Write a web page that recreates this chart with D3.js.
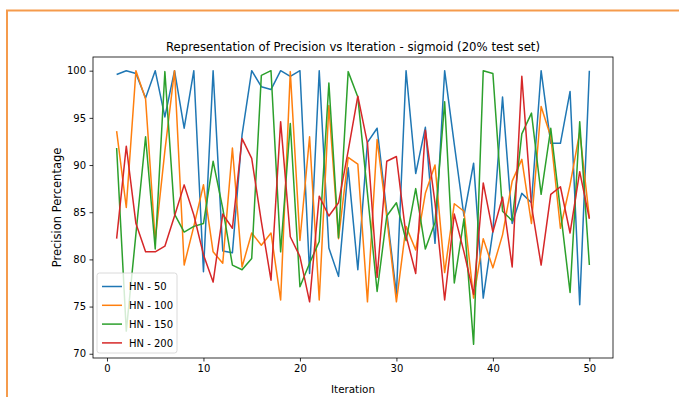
<!DOCTYPE html>
<html>
<head>
<meta charset="utf-8">
<script src="https://cdn.jsdelivr.net/npm/d3@7"></script>
<style>
  html, body { margin: 0; padding: 0; background: #fff; }
  svg { display: block; font-family: "DejaVu Sans", sans-serif; }
</style>
</head>
<body>
<svg id="chart" width="679" height="397"></svg>
<script>
// Precision per iteration for each hidden-layer size
const iterations = d3.range(1, 51);

const hn50 = [99.6, 100, 99.7, 97.1, 100, 95.1, 100, 93.9, 100, 78.7,
  100, 80.9, 80.7, 93.2, 100, 98.3, 98.0, 100, 99.4, 100,
  78.5, 100, 81.2, 78.2, 89.7, 78.9, 92.4, 93.9, 85.0, 76.3,
  100, 89.1, 94.0, 81.7, 100, 92.2, 84.6, 90.2, 75.9, 83.0,
  97.2, 83.8, 87.0, 86.0, 100, 92.3, 92.3, 97.8, 75.2, 100];

const hn100 = [93.6, 85.5, 100, 97.0, 82.0, 91.5, 100, 79.4, 83.5, 87.9,
  80.8, 79.6, 91.8, 79.2, 82.8, 81.5, 82.8, 75.7, 99.9, 82.0,
  93.0, 75.7, 96.3, 82.2, 90.8, 90.1, 75.5, 92.7, 84.5, 75.5,
  83.5, 81.0, 87.0, 90.0, 78.6, 85.9, 85.1, 75.9, 82.2, 79.1,
  82.6, 88.3, 90.6, 83.8, 96.2, 93.0, 83.3, 87.9, 93.5, 84.4];

const hn150 = [91.8, 72.4, 82.7, 93.0, 81.1, 99.9, 84.8, 82.9, 83.5, 83.8,
  90.4, 85.4, 79.4, 78.9, 80.1, 99.5, 100, 80.8, 94.4, 77.1,
  79.6, 81.9, 98.7, 82.3, 99.9, 97.2, 87.0, 76.6, 84.6, 86.0,
  82.0, 87.5, 81.1, 83.9, 96.7, 77.5, 84.3, 71.0, 100, 99.7,
  85.1, 84.1, 93.3, 95.5, 86.9, 93.9, 85.2, 76.5, 94.6, 79.4];

const hn200 = [82.2, 92.0, 83.8, 80.8, 80.8, 81.4, 84.6, 87.9, 84.7, 80.5,
  77.6, 84.8, 83.3, 92.8, 90.7, 84.0, 77.8, 94.6, 82.4, 80.3,
  75.5, 86.7, 84.6, 86.0, 91.5, 97.3, 92.3, 78.1, 90.4, 90.9,
  82.5, 78.5, 93.7, 86.0, 75.7, 84.8, 80.8, 76.3, 88.1, 82.9,
  86.6, 79.2, 99.4, 85.7, 79.4, 86.9, 87.7, 82.8, 89.3, 84.3];

const seriesNames = ["HN - 50", "HN - 100", "HN - 150", "HN - 200"];
const seriesValues = [hn50, hn100, hn150, hn200];
const seriesColors = ["#1f77b4", "#ff7f0e", "#2ca02c", "#d62728"];

const xTicks = [0, 10, 20, 30, 40, 50];
const yTicks = [70, 75, 80, 85, 90, 95, 100];

const svg = d3.select("#chart");

// outer orange frame
svg.append("path")
  .attr("d", "M7,397 L7,10.5 L679,10.5")
  .attr("fill", "none")
  .attr("stroke", "#f59b4c")
  .attr("stroke-width", 2);

const plot = { left: 93, right: 613, top: 57, bottom: 358 };

// axis limits with 5% padding around the data
const allVals = seriesValues.flat();
const xMin = d3.min(iterations), xMax = d3.max(iterations);
const yMin = d3.min(allVals), yMax = d3.max(allVals);
const xPad = (xMax - xMin) * 0.05, yPad = (yMax - yMin) * 0.05;

const x = d3.scaleLinear()
  .domain([xMin - xPad, xMax + xPad])
  .range([plot.left, plot.right]);
const y = d3.scaleLinear()
  .domain([yMin - yPad, yMax + yPad])
  .range([plot.bottom, plot.top]);

// series lines
const line = d3.line()
  .x((d, i) => x(iterations[i]))
  .y(d => y(d));

const g = svg.append("g");
seriesValues.forEach((vals, k) => {
  g.append("path")
    .datum(vals)
    .attr("d", line)
    .attr("fill", "none")
    .attr("stroke", seriesColors[k])
    .attr("stroke-width", 1.5)
    .attr("stroke-linejoin", "round");
});

// axes
const xAxis = svg.append("g")
  .attr("transform", `translate(0,${plot.bottom})`)
  .call(d3.axisBottom(x).tickValues(xTicks).tickSize(3.5).tickPadding(3.5));
const yAxis = svg.append("g")
  .attr("transform", `translate(${plot.left},0)`)
  .call(d3.axisLeft(y).tickValues(yTicks).tickSize(3.5).tickPadding(3.5));

[xAxis, yAxis].forEach(a => {
  a.select(".domain").remove();
  a.selectAll("text").attr("font-size", 10).attr("font-family", "DejaVu Sans").attr("fill", "#000");
  a.selectAll("line").attr("stroke", "#000").attr("stroke-width", 0.8);
});

// frame around the plot area
svg.append("rect")
  .attr("x", plot.left).attr("y", plot.top)
  .attr("width", plot.right - plot.left)
  .attr("height", plot.bottom - plot.top)
  .attr("fill", "none")
  .attr("stroke", "#000")
  .attr("stroke-width", 0.8);

// title and axis labels
svg.append("text")
  .attr("x", (plot.left + plot.right) / 2).attr("y", 51)
  .attr("text-anchor", "middle")
  .attr("font-size", 12.5)
  .attr("textLength", 374)
  .attr("lengthAdjust", "spacingAndGlyphs")
  .text("Representation of Precision vs Iteration - sigmoid (20% test set)");

svg.append("text")
  .attr("x", (plot.left + plot.right) / 2).attr("y", 393)
  .attr("text-anchor", "middle")
  .attr("font-size", 10.5)
  .attr("textLength", 44)
  .attr("lengthAdjust", "spacingAndGlyphs")
  .text("Iteration");

svg.append("text")
  .attr("transform", `translate(61,${(plot.top + plot.bottom) / 2}) rotate(-90)`)
  .attr("text-anchor", "middle")
  .attr("font-size", 11.5)
  .text("Precision Percentage");

// legend
const legend = svg.append("g").attr("transform", "translate(97,273)");
legend.append("rect")
  .attr("width", 80).attr("height", 80)
  .attr("rx", 2.5)
  .attr("fill", "#fff").attr("fill-opacity", 0.8)
  .attr("stroke", "#d0d0d0").attr("stroke-width", 0.8);
seriesNames.forEach((name, k) => {
  const row = legend.append("g").attr("transform", `translate(0,${13.5 + k * 18.8})`);
  row.append("line")
    .attr("x1", 5).attr("x2", 25)
    .attr("stroke", seriesColors[k]).attr("stroke-width", 1.5);
  row.append("text")
    .attr("x", 32).attr("y", 3.8)
    .attr("font-size", 10)
    .text(name);
});
</script>
</body>
</html>
